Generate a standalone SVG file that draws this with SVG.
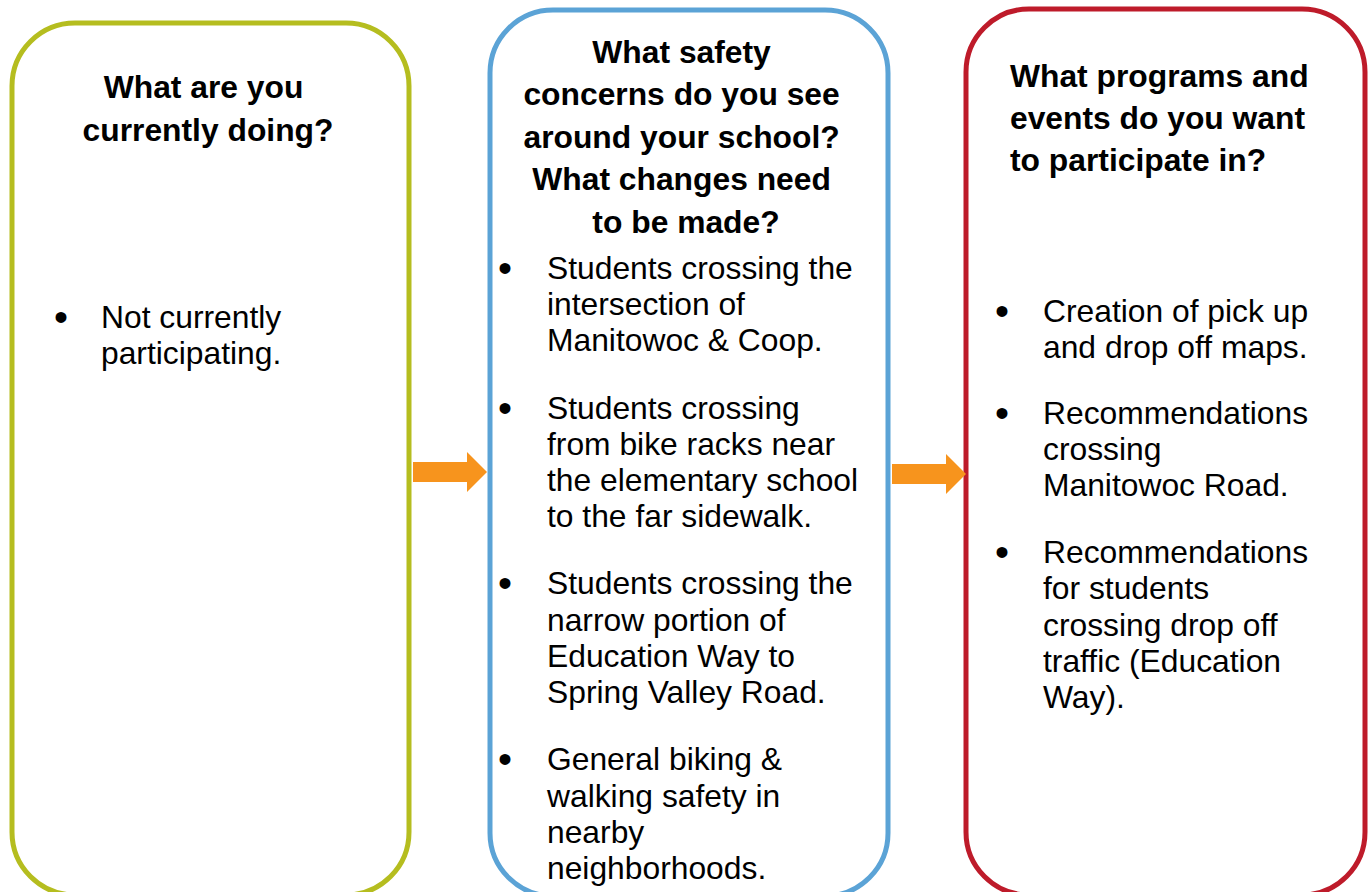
<svg xmlns="http://www.w3.org/2000/svg" width="1370" height="892" viewBox="0 0 1370 892">
  <style>
    .box { fill: #ffffff; stroke-width: 5; }
    .green { stroke: #B5BD1F; }
    .blue { stroke: #5BA3D6; }
    .red { stroke: #BE1B2A; }
    .head { font-family: "Liberation Sans", Arial, sans-serif; font-weight: bold; font-size: 31.8px; fill: #000000; }
    .body { font-family: "Liberation Sans", Arial, sans-serif; font-size: 31.8px; fill: #000000; }
    .dot { font-family: "Liberation Sans", Arial, sans-serif; font-size: 40px; fill: #000000; text-anchor: middle; }
    .c { text-anchor: middle; }
    .flow { fill: #F7941D; }
  </style>
  <defs>
    <!-- block arrow: shaft 54 x 20, head 20 deep and 40 tall -->
    <path id="blockArrow" d="M0,10 H54 V0 L74,20 L54,40 V30 H0 Z"/>
  </defs>

  <rect width="1370" height="892" fill="#ffffff"/>

  <!-- column 1: current activity -->
  <g id="node-current">
    <rect class="box green" x="12" y="23" width="397" height="872" rx="63" ry="63"/>
    <text class="head c">
      <tspan x="208" y="98">What are you</tspan>
      <tspan x="208" y="141">currently doing?</tspan>
    </text>
    <text class="dot" x="61" y="331">•</text>
    <text class="body">
      <tspan x="101" y="328">Not currently</tspan>
      <tspan x="101" y="364">participating.</tspan>
    </text>
  </g>

  <!-- column 2: safety concerns -->
  <g id="node-concerns">
    <rect class="box blue" x="490" y="10" width="398" height="886" rx="63" ry="63"/>
    <text class="head c">
      <tspan x="686" y="63">What safety</tspan>
      <tspan x="686" y="105">concerns do you see</tspan>
      <tspan x="686" y="148">around your school?</tspan>
      <tspan x="686" y="190">What changes need</tspan>
      <tspan x="686" y="233">to be made?</tspan>
    </text>
    <text class="dot" x="505" y="282">•</text>
    <text class="dot" x="505" y="422">•</text>
    <text class="dot" x="505" y="597">•</text>
    <text class="dot" x="505" y="773">•</text>
    <text class="body">
      <tspan x="547" y="279">Students crossing the</tspan>
      <tspan x="547" y="315">intersection of</tspan>
      <tspan x="547" y="351">Manitowoc &amp; Coop.</tspan>
      <tspan x="547" y="419">Students crossing</tspan>
      <tspan x="547" y="455">from bike racks near</tspan>
      <tspan x="547" y="491">the elementary school</tspan>
      <tspan x="547" y="527">to the far sidewalk.</tspan>
      <tspan x="547" y="594">Students crossing the</tspan>
      <tspan x="547" y="631">narrow portion of</tspan>
      <tspan x="547" y="667">Education Way to</tspan>
      <tspan x="547" y="703">Spring Valley Road.</tspan>
      <tspan x="547" y="770">General biking &amp;</tspan>
      <tspan x="547" y="807">walking safety in</tspan>
      <tspan x="547" y="843">nearby</tspan>
      <tspan x="547" y="879">neighborhoods.</tspan>
    </text>
  </g>

  <!-- column 3: desired programs -->
  <g id="node-programs">
    <rect class="box red" x="966" y="9" width="399" height="886" rx="63" ry="63"/>
    <text class="head">
      <tspan x="1010" y="87">What programs and</tspan>
      <tspan x="1010" y="129">events do you want</tspan>
      <tspan x="1010" y="171">to participate in?</tspan>
    </text>
    <text class="dot" x="1002" y="325">•</text>
    <text class="dot" x="1002" y="427">•</text>
    <text class="dot" x="1002" y="566">•</text>
    <text class="body">
      <tspan x="1043" y="322">Creation of pick up</tspan>
      <tspan x="1043" y="358">and drop off maps.</tspan>
      <tspan x="1043" y="424">Recommendations</tspan>
      <tspan x="1043" y="460">crossing</tspan>
      <tspan x="1043" y="496">Manitowoc Road.</tspan>
      <tspan x="1043" y="563">Recommendations</tspan>
      <tspan x="1043" y="599">for students</tspan>
      <tspan x="1043" y="636">crossing drop off</tspan>
      <tspan x="1043" y="672">traffic (Education</tspan>
      <tspan x="1043" y="708">Way).</tspan>
    </text>
  </g>

  <!-- flow arrows between columns -->
  <g id="connectors">
    <use href="#blockArrow" class="flow" x="413" y="452"/>
    <use href="#blockArrow" class="flow" x="892" y="454"/>
  </g>
</svg>
